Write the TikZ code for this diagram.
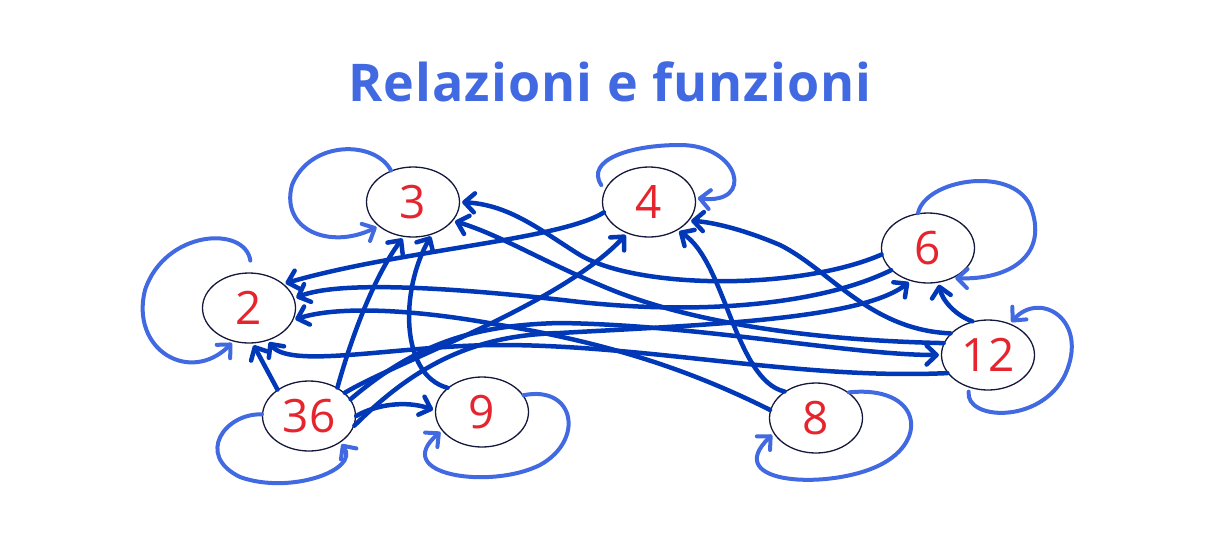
\documentclass[tikz,border=0pt]{standalone}
\usepackage{fontspec}
\setmainfont{Open Sans}
\usepackage{tikz}
\usetikzlibrary{arrows.meta,shapes.geometric}

\definecolor{titleblue}{RGB}{65,105,225}
\definecolor{edgeblue}{RGB}{0,56,184}
\definecolor{numred}{RGB}{230,36,46}
\definecolor{rimnavy}{RGB}{20,24,60}

\begin{document}
\begin{tikzpicture}[x=1pt,y=-1pt,
    num/.style={ellipse,draw=rimnavy,line width=1.3pt,minimum width=93pt,minimum height=70pt,
        inner sep=0pt,text=numred,font=\fontsize{46}{46}\selectfont},
    rel/.style={draw=edgeblue,line width=4.5pt,line cap=round,shorten >=2pt,
        -{Straight Barb[round,length=10pt,width=19pt]}},
    self/.style={rel,draw=titleblue,line width=4pt}]

\useasboundingbox (0,0) rectangle (1220,544);

\node[font=\fontsize{52}{52}\selectfont\bfseries\addfontfeature{LetterSpace=2},text=titleblue,anchor=base]
    (title) at (610,101) {Relazioni e funzioni};

\foreach \n/\x/\y in {2/249/308,3/413/202,4/649/202,6/928/248,12/988/355,36/309/416,9/482/412,8/816/418}
{
    \node[num] (N\n) at (\x,\y) {\n};
}

\draw[rel] (N36.140) -- (N2.-84);
\draw[rel] (N36.45) .. controls (352,335) and (375,275) .. (N3.-105);
\draw[rel] (N36.33) .. controls (400,360) and (560,305) .. (N4.-125);
\draw[rel] (N36.0) .. controls (375,405) and (405,400) .. (N9.178);
\draw[rel] (N36.-12) .. controls (420,360) and (480,335) .. (560,333) .. controls (700,325) and (860,320) .. (N6.-118);
\draw[rel] (N36.22) .. controls (420,340) and (480,325) .. (560,323) .. controls (700,325) and (850,355) .. (N12.180);

\draw[rel] (N4.193) .. controls (560,240) and (400,250) .. (N2.35);
\draw[rel] (N6.211) .. controls (820,305) and (700,315) .. (580,302) .. controls (460,288) and (340,280) .. (N2.12);
\draw[rel] (N6.188) .. controls (800,290) and (640,290) .. (580,255) .. controls (540,230) and (510,205) .. (N3.0);
\draw[rel] (N12.204) .. controls (800,380) and (650,345) .. (500,345) .. controls (400,345) and (290,370) .. (N2.-60);
\draw[rel] (N12.165) .. controls (800,340) and (680,320) .. (600,285) .. controls (540,260) and (500,235) .. (N3.-25);
\draw[rel] (N12.150) .. controls (870,330) and (830,270) .. (780,245) .. controls (740,228) and (710,222) .. (N4.-25);
\draw[rel] (N12.115) .. controls (955,315) and (942,300) .. (N6.-73);
\draw[rel] (N8.170) .. controls (700,375) and (620,345) .. (500,325) .. controls (420,310) and (340,305) .. (N2.-15);
\draw[rel] (N8.140) .. controls (735,380) and (725,260) .. (N4.-45);
\draw[rel] (N9.145) .. controls (400,375) and (400,290) .. (N3.-60);

\draw[self] (N3.125) .. controls (375,140) and (310,140) .. (292,185) .. controls (280,230) and (330,250) .. (N3.215);
\draw[self,shorten <=12pt] (N2.85) .. controls (245,225) and (165,230) .. (145,290) .. controls (130,350) and (190,385) .. (N2.-115);
\draw[self] (N36.178) .. controls (225,413) and (195,455) .. (240,477) .. controls (290,495) and (360,470) .. (N36.-40);
\draw[self] (N9.22) .. controls (575,385) and (585,440) .. (540,465) .. controls (490,490) and (390,475) .. (N9.205);
\draw[self] (N8.38) .. controls (920,385) and (930,440) .. (880,465) .. controls (830,490) and (720,485) .. (N8.200);
\draw[self,shorten <=4pt] (N12.-120) .. controls (965,420) and (1040,425) .. (1065,375) .. controls (1090,320) and (1040,290) .. (N12.55);
\draw[self] (N6.106) .. controls (925,180) and (1010,165) .. (1030,205) .. controls (1050,255) and (1010,280) .. (N6.-50);
\draw[self,shorten <=6pt] (N4.165) .. controls (585,160) and (630,145) .. (680,145) .. controls (740,145) and (755,205) .. (N4.5);

\end{tikzpicture}
\end{document}
